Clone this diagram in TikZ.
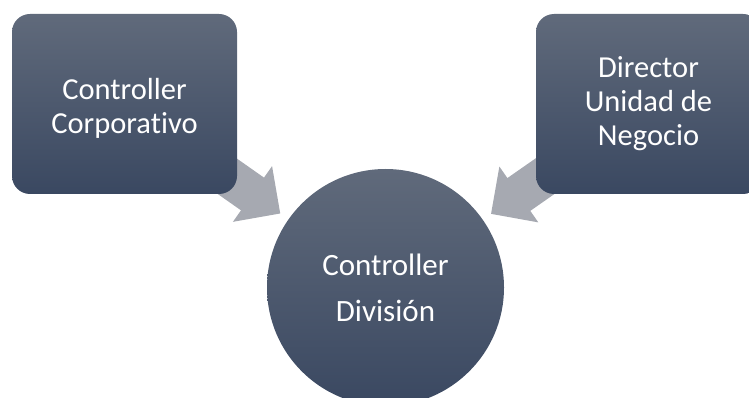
\documentclass[tikz,border=0pt]{standalone}
\usepackage{fontspec}
\setmainfont[Ligatures=NoCommon]{Carlito}
\usetikzlibrary{calc,backgrounds,arrows.meta}

\definecolor{slatetop}{RGB}{96,106,123}
\definecolor{slatebot}{RGB}{58,72,97}
\definecolor{arrowgray}{RGB}{166,169,177}

\tikzset{
  boxnode/.style={rounded corners=18pt, minimum width=225pt, minimum height=180pt,
    top color=slatetop, bottom color=slatebot, draw=none,
    text=white, align=center, inner sep=0pt,
    font=\fontsize{30.5}{34}\selectfont},
  circnode/.style={circle, minimum size=237pt, inner sep=0pt,
    top color=slatetop, bottom color=slatebot, draw=none,
    text=white, align=center,
    font=\fontsize{31}{46}\selectfont},
  blockarrow/.style={draw=arrowgray, line width=40pt,
    -{Triangle[width=66pt,length=34pt]}, arrowgray}
}

\begin{document}
\begin{tikzpicture}[x=1pt,y=-1pt]
  \useasboundingbox (0,0) rectangle (749,398);
  \clip (0,0) rectangle (749,398);

  % the three roles
  \node[boxnode] (corp) at (124.5,104) {\rule{0pt}{30pt}Controller\\Corporativo};
  \node[boxnode] (unit) at (648.5,104) {Director\\Unidad de\\Negocio};
  \node[circnode] (div) at (385.5,287.5) {Controller\\División};

  % block arrows reporting into the division controller
  \begin{scope}[on background layer]
    \coordinate (tipL) at ($(div.center)!128.6pt!(corp.center)$);
    \coordinate (tipR) at ($(div.center)!128.6pt!(unit.center)$);
    \draw[blockarrow] (corp.center) -- (tipL);
    \draw[blockarrow] (unit.center) -- (tipR);
  \end{scope}
\end{tikzpicture}
\end{document}
